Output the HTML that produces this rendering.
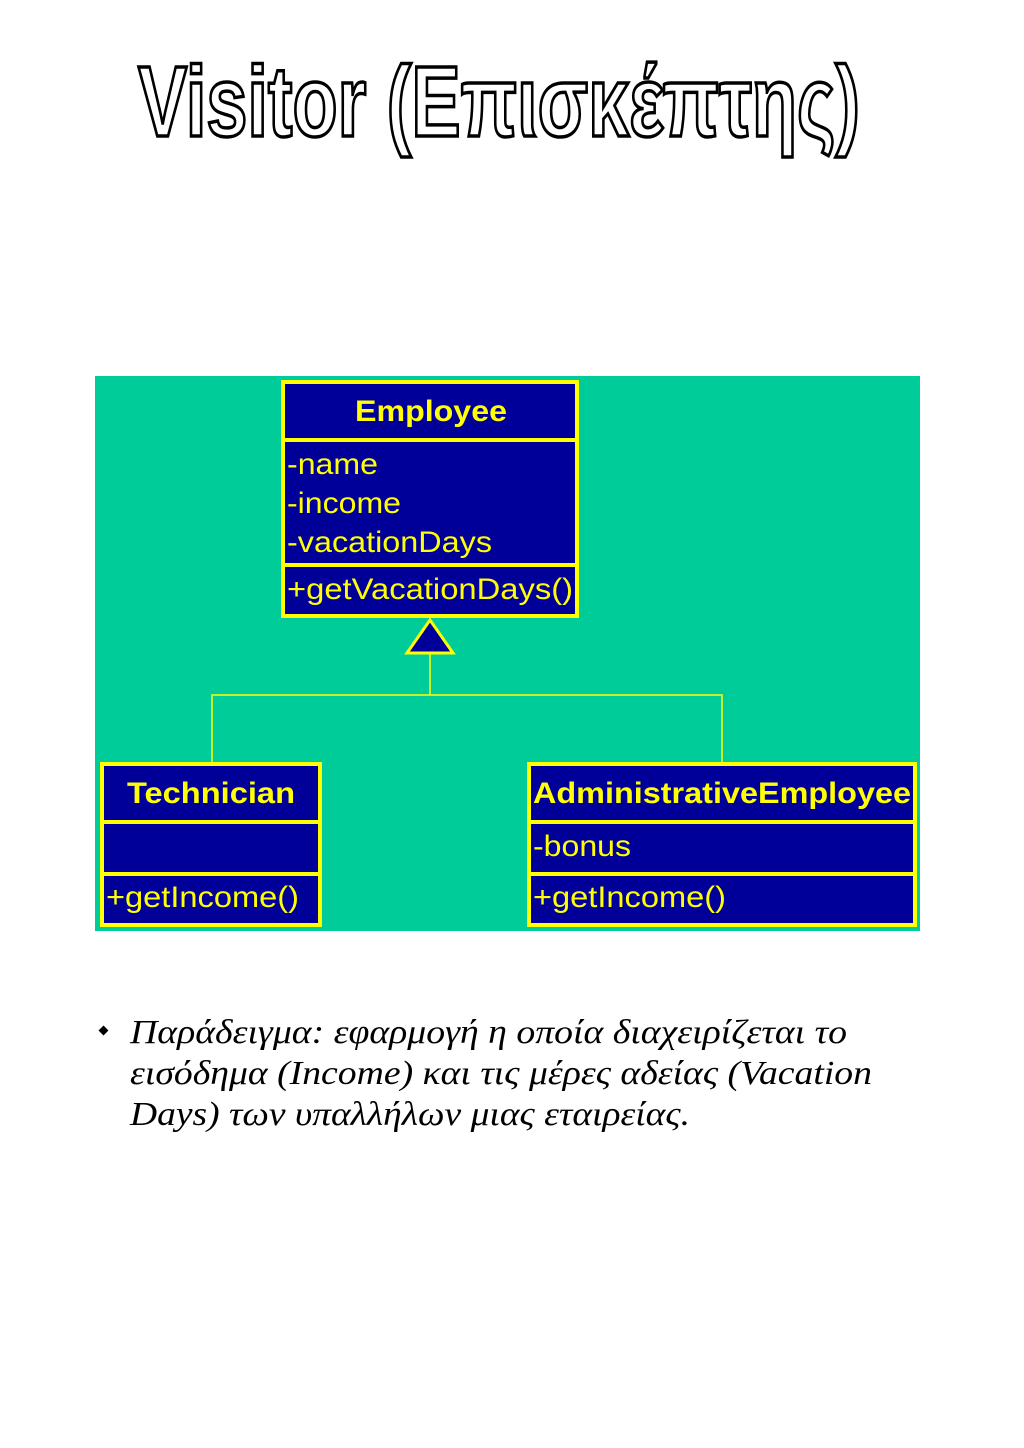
<!DOCTYPE html>
<html><head><meta charset="utf-8"><style>html,body{margin:0;padding:0;background:#fff}svg{display:block}</style></head>
<body>
<svg width="1024" height="1448" xmlns="http://www.w3.org/2000/svg">
<rect width="1024" height="1448" fill="#fff"/>
<text x="138" y="136" font-family="Liberation Sans, DejaVu Sans, sans-serif" font-weight="bold" font-size="100" fill="#fff" stroke="#000" stroke-width="3.5" textLength="722" lengthAdjust="spacingAndGlyphs">Visitor (Επισκέπτης)</text>

<rect x="95" y="376" width="825" height="555" fill="#00CC99"/>
<g font-family="Liberation Sans, sans-serif" fill="#FFFF00">
<rect x="283" y="382" width="294" height="234" fill="#000099" stroke="#FFFF00" stroke-width="4"/>
<line x1="283" y1="440" x2="577" y2="440" stroke="#FFFF00" stroke-width="4"/>
<line x1="283" y1="565" x2="577" y2="565" stroke="#FFFF00" stroke-width="4"/>
<text x="355" y="421" font-size="30" font-weight="bold" textLength="152" lengthAdjust="spacingAndGlyphs">Employee</text>
<text x="287" y="474" font-size="30" textLength="91" lengthAdjust="spacingAndGlyphs">-name</text>
<text x="287" y="513" font-size="30" textLength="114" lengthAdjust="spacingAndGlyphs">-income</text>
<text x="287" y="552" font-size="30" textLength="205" lengthAdjust="spacingAndGlyphs">-vacationDays</text>
<text x="287" y="599" font-size="30" textLength="286" lengthAdjust="spacingAndGlyphs">+getVacationDays()</text>
<polygon points="430,620 407,653 453,653" fill="#000099" stroke="#FFFF00" stroke-width="3"/>
<polyline points="430,653 430,695" fill="none" stroke="#FFFF00" stroke-width="1.5"/>
<polyline points="212,763 212,695 722,695 722,763" fill="none" stroke="#FFFF00" stroke-width="1.5"/>
<rect x="102" y="764" width="218" height="161" fill="#000099" stroke="#FFFF00" stroke-width="4"/>
<line x1="102" y1="822" x2="320" y2="822" stroke="#FFFF00" stroke-width="4"/>
<line x1="102" y1="874" x2="320" y2="874" stroke="#FFFF00" stroke-width="4"/>
<text x="211" y="803" font-size="30" font-weight="bold" text-anchor="middle" textLength="168" lengthAdjust="spacingAndGlyphs">Technician</text>
<text x="106" y="907" font-size="30" textLength="193" lengthAdjust="spacingAndGlyphs">+getIncome()</text>
<rect x="529" y="764" width="386" height="161" fill="#000099" stroke="#FFFF00" stroke-width="4"/>
<line x1="529" y1="822" x2="915" y2="822" stroke="#FFFF00" stroke-width="4"/>
<line x1="529" y1="874" x2="915" y2="874" stroke="#FFFF00" stroke-width="4"/>
<text x="533" y="803" font-size="30" font-weight="bold" textLength="378" lengthAdjust="spacingAndGlyphs">AdministrativeEmployee</text>
<text x="533" y="856" font-size="30" textLength="98" lengthAdjust="spacingAndGlyphs">-bonus</text>
<text x="533" y="907" font-size="30" textLength="193" lengthAdjust="spacingAndGlyphs">+getIncome()</text>
</g>

<g font-family="Liberation Serif, DejaVu Serif, serif" font-style="italic" font-size="34" fill="#000">
<rect x="100" y="1027" width="7" height="7" transform="rotate(45 103.5 1030.5)" fill="#000"/>
<text x="130" y="1043" textLength="717" lengthAdjust="spacingAndGlyphs">Παράδειγμα: εφαρμογή η οποία διαχειρίζεται το</text>
<text x="130" y="1084" textLength="742" lengthAdjust="spacingAndGlyphs">εισόδημα (Income) και τις μέρες αδείας (Vacation</text>
<text x="130" y="1125" textLength="560" lengthAdjust="spacingAndGlyphs">Days) των υπαλλήλων μιας εταιρείας.</text>
</g>
</svg>
</body></html>
